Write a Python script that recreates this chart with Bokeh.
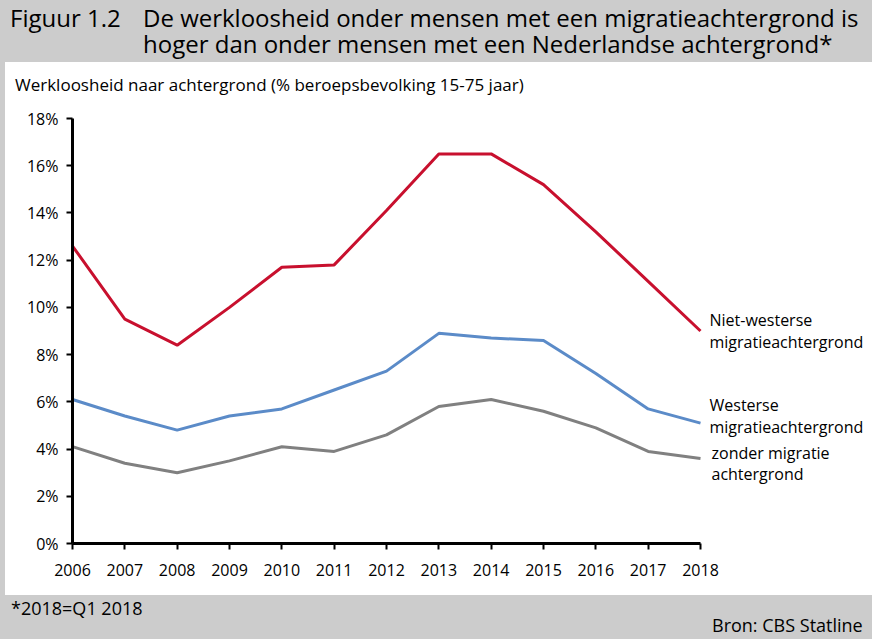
from bokeh.plotting import figure
from bokeh.layouts import column, row
from bokeh.models import Range1d, Label, FixedTicker, PrintfTickFormatter, Div
from bokeh.embed import file_html
from bokeh.resources import INLINE

# ---------------- data ----------------
years = [2006, 2007, 2008, 2009, 2010, 2011, 2012, 2013, 2014, 2015, 2016, 2017, 2018]
niet_westers = [12.6, 9.5, 8.4, 10.0, 11.7, 11.8, 14.1, 16.5, 16.5, 15.2, 13.2, 11.1, 9.0]
westers = [6.1, 5.4, 4.8, 5.4, 5.7, 6.5, 7.3, 8.9, 8.7, 8.6, 7.2, 5.7, 5.1]
zonder = [4.1, 3.4, 3.0, 3.5, 4.1, 3.9, 4.6, 5.8, 6.1, 5.6, 4.9, 3.9, 3.6]
y_ticks = [0, 2, 4, 6, 8, 10, 12, 14, 16, 18]

series_labels = [
    ["Niet-westerse", "migratieachtergrond"],
    ["Westerse", "migratieachtergrond"],
    ["zonder migratie", "achtergrond"],
]
title_fig = "Figuur 1.2"
title_lines = ["De werkloosheid onder mensen met een migratieachtergrond is",
               "hoger dan onder mensen met een Nederlandse achtergrond*"]
subtitle = "Werkloosheid naar achtergrond (% beroepsbevolking 15-75 jaar)"
footnote = "*2018=Q1 2018"
source = "Bron: CBS Statline"

FONT = "Open Sans"
GRAY_BG = "#CCCCCC"
W = 872


def span(txt, left, top, size, lh):
    return (f'<span style="position:absolute;left:{left}px;top:{top}px;font-size:{size}px;'
            f'line-height:{lh}px;white-space:nowrap;">{txt}</span>')


# ---------------- header (gray title band + white subtitle row) ----------------
header_html = (
    f'<div style="position:relative;width:{W}px;height:100px;background:{GRAY_BG};'
    f'font-family:\'{FONT}\';color:#000;overflow:hidden;">'
    f'<div style="position:absolute;left:5px;top:62px;width:{W - 5}px;height:38px;background:#fff;"></div>'
    + span(title_fig, 10, 6, 24, 24)
    + span(title_lines[0], 143, 6, 24, 24)
    + span(title_lines[1], 143, 32, 24, 24)
    + span(subtitle, 15, 75.6, 17, 17)
    + '</div>'
)
header = Div(text=header_html, width=W, height=100, margin=(0, 0, 0, 0))

# ---------------- main chart ----------------
PW = W - 5
PH = 495
frame_left, frame_w_data = 67, 628          # pixel span of 2006..2018
px_per_year = frame_w_data / (years[-1] - years[0])
x_end = years[-1] + (PW - frame_left - frame_w_data) / px_per_year

p = figure(width=PW, height=PH, x_range=Range1d(years[0], x_end), y_range=Range1d(0, 18),
           toolbar_location=None, output_backend="svg",
           min_border_left=frame_left, min_border_right=0, min_border_top=18, min_border_bottom=52)
p.background_fill_color = "white"
p.border_fill_color = "white"
p.outline_line_color = None
p.grid.visible = False

colors = ["#C8102E", "#5B8BC8", "#808080"]
for vals, col in zip([niet_westers, westers, zonder], colors):
    p.line(years, vals, line_color=col, line_width=3)

for ax in (p.xaxis[0], p.yaxis[0]):
    ax.axis_line_color = "black"
    ax.axis_line_width = 3
    ax.major_tick_line_color = "black"
    ax.major_tick_line_width = 2
    ax.major_tick_in = 0
    ax.major_tick_out = 6
    ax.minor_tick_line_color = None
    ax.major_label_text_font = FONT
    ax.major_label_text_font_size = "16px"
    ax.major_label_text_color = "black"

p.xaxis.ticker = FixedTicker(ticks=years)
p.xaxis.bounds = (years[0], years[-1])
p.xaxis.major_label_standoff = 14
p.yaxis.ticker = FixedTicker(ticks=y_ticks)
p.yaxis.bounds = (y_ticks[0], y_ticks[-1])
p.yaxis.formatter = PrintfTickFormatter(format="%d%%")
p.yaxis.major_label_standoff = 8

offsets = [(9, 11, -11), (9, 18, -4), (11, 6, -15)]
for vals, lines, (xo, y1, y2) in zip([niet_westers, westers, zonder], series_labels, offsets):
    for txt, yo in zip(lines, (y1, y2)):
        p.add_layout(Label(x=years[-1], y=vals[-1], x_offset=xo, y_offset=yo, text=txt,
                           text_font=FONT, text_font_size="16px", text_color="black",
                           text_baseline="middle"))

stripe = Div(text="", width=5, height=PH, margin=(0, 0, 0, 0),
             styles={"background-color": GRAY_BG})

# ---------------- footer band ----------------
footer_html = (
    f'<div style="position:relative;width:{W}px;height:44px;background:{GRAY_BG};'
    f'font-family:\'{FONT}\';color:#000;overflow:hidden;">'
    + span(footnote, 11, 4, 18, 18)
    + span(source, 712, 21, 18, 18)
    + '</div>'
)
footer = Div(text=footer_html, width=W, height=44, margin=(0, 0, 0, 0))

layout = column(header, row(stripe, p, spacing=0), footer, spacing=0)
open("out.html", "w").write(file_html(layout, INLINE))
